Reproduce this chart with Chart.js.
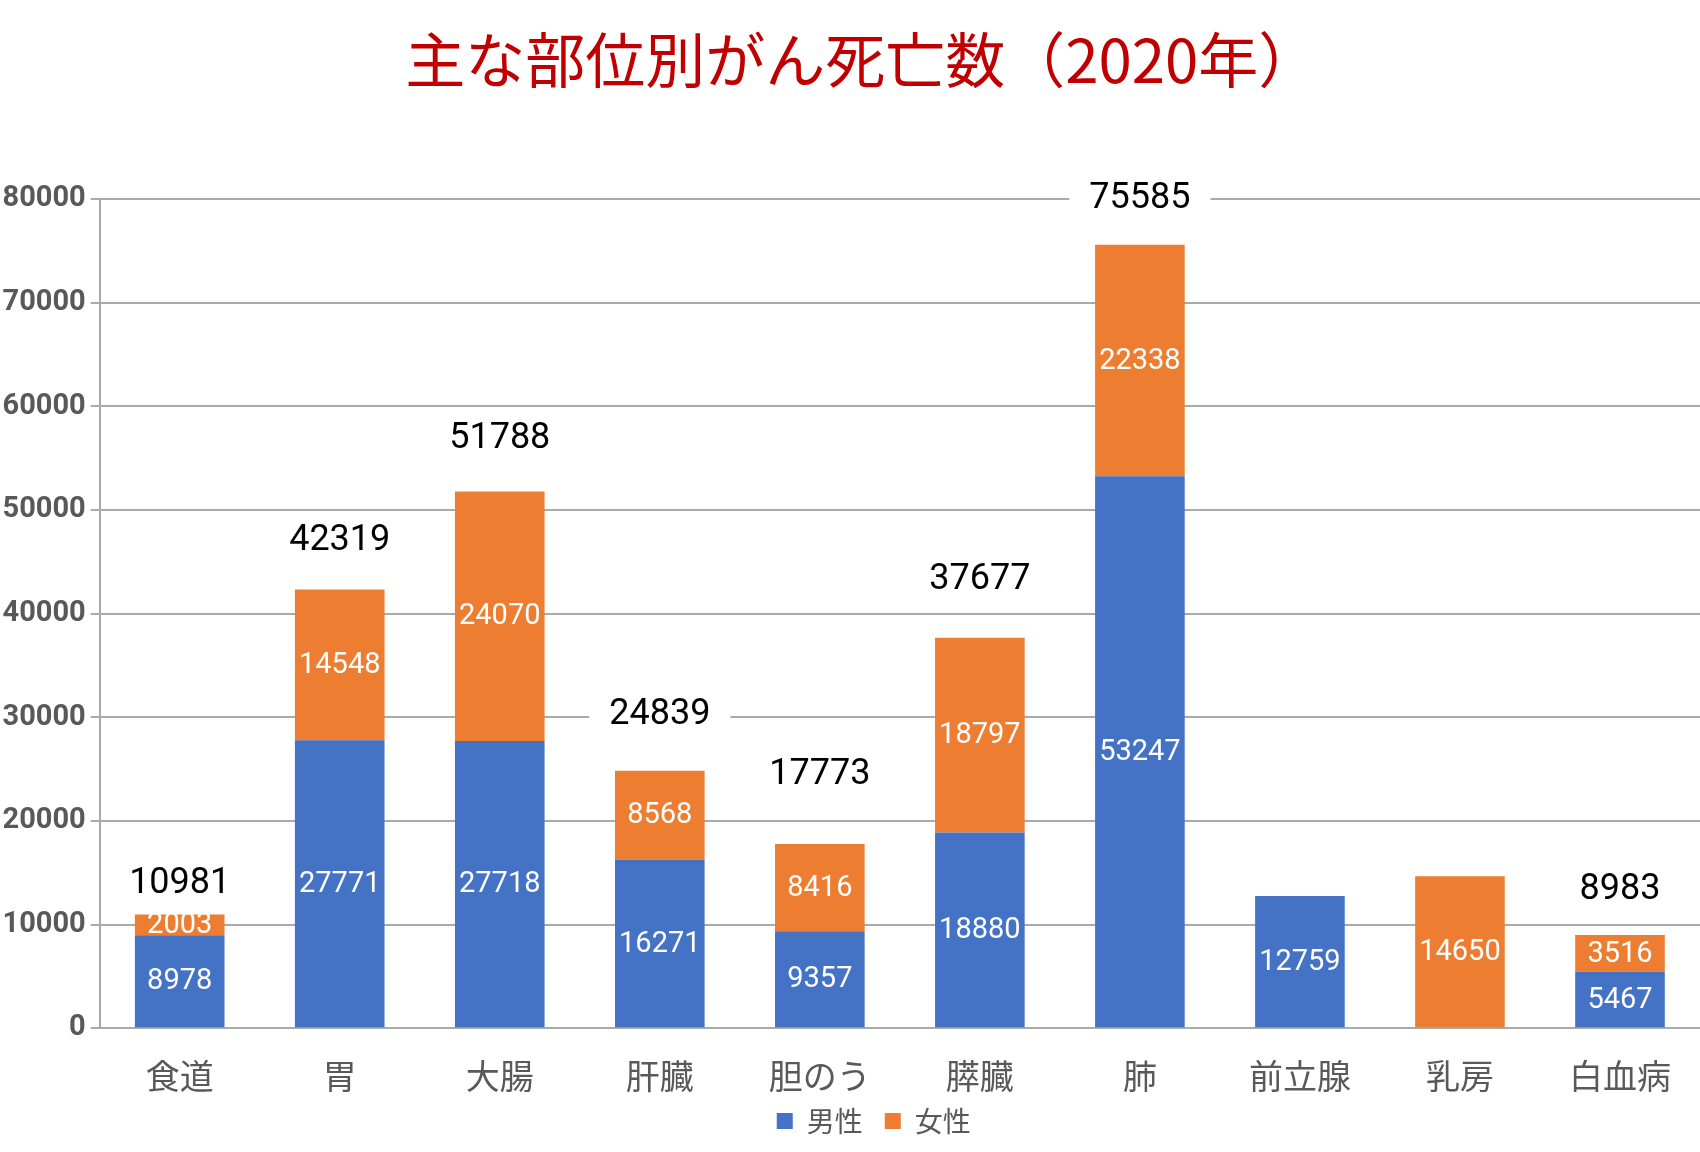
<!DOCTYPE html>
<html lang="ja">
<head>
<meta charset="utf-8">
<title>主な部位別がん死亡数（2020年）</title>
<script src="https://cdn.jsdelivr.net/npm/chart.js@4.4.1/dist/chart.umd.min.js"></script>
<style>
  body { margin: 0; background: #fff; }
  #wrap { width: 1700px; height: 1152px; }
</style>
</head>
<body>
<div id="wrap"><canvas id="myBarChart"></canvas></div>
<script>
var categorias = ['食道', '胃', '大腸', '肝臓', '胆のう', '膵臓', '肺', '前立腺', '乳房', '白血病'];
var hombres = [8978, 27771, 27718, 16271, 9357, 18880, 53247, 12759, null, 5467];
var mujeres = [2003, 14548, 24070, 8568, 8416, 18797, 22338, null, 14650, 3516];
var totales = [10981, 42319, 51788, 24839, 17773, 37677, 75585, null, null, 8983];
var ticksY = [0, 10000, 20000, 30000, 40000, 50000, 60000, 70000, 80000];

// how far each total label sits above its bar (px), as placed in the original
var subirEtiqueta = [31, 50, 53, 57, 70, 59, 47, 0, 0, 46];

var gris = '#aaaaaa';
var textoGris = '#595959';

// white numbers in the middle of every segment
var etiquetasValores = {
  id: 'etiquetasValores',
  afterDatasetsDraw: function (chart) {
    var ctx = chart.ctx;
    ctx.save();
    ctx.font = '29px Roboto';
    ctx.fillStyle = '#ffffff';
    ctx.textAlign = 'center';
    ctx.textBaseline = 'middle';
    chart.data.datasets.forEach(function (ds, d) {
      var meta = chart.getDatasetMeta(d);
      meta.data.forEach(function (bar, i) {
        if (ds.data[i] == null) return;
        var p = bar.getProps(['x', 'y', 'base'], true);
        ctx.fillText(String(ds.data[i]), p.x, (p.y + p.base) / 2 + 1);
      });
    });
    ctx.restore();
  }
};

// totals above the stacks, on a white box that hides the grid
var etiquetasTotales = {
  id: 'etiquetasTotales',
  afterDatasetsDraw: function (chart) {
    var ctx = chart.ctx;
    var x = chart.scales.x;
    var y = chart.scales.y;
    ctx.save();
    ctx.font = '36px Roboto';
    ctx.textAlign = 'center';
    ctx.textBaseline = 'middle';
    totales.forEach(function (t, i) {
      if (t == null) return;
      var px = x.getPixelForValue(i);
      var py = y.getPixelForValue(t) - subirEtiqueta[i];
      var w = ctx.measureText(String(t)).width;
      ctx.fillStyle = '#ffffff';
      ctx.fillRect(px - w / 2 - 20, py - 20, w + 40, 40);
      ctx.fillStyle = '#000000';
      ctx.fillText(String(t), px, py + 1);
    });
    ctx.restore();
  }
};

// nudge title and legend to where the original has them
var moverBloques = {
  id: 'moverBloques',
  afterLayout: function (chart) {
    var lg = chart.legend;
    lg.left += 25;
    lg.right += 25;
    lg.top -= 38;
    lg.bottom -= 38;
    var tt = chart.titleBlock;
    tt.left += 13;
    tt.right += 13;
  }
};

var ctx = document.getElementById('myBarChart').getContext('2d');
var myBarChart = new Chart(ctx, {
  type: 'bar',
  data: {
    labels: categorias,
    datasets: [{
        label: '男性',
        data: hombres,
        backgroundColor: '#4472C4',
        barPercentage: 0.56,
        categoryPercentage: 1.0
      },
      {
        label: '女性',
        data: mujeres,
        backgroundColor: '#ED7D31',
        barPercentage: 0.56,
        categoryPercentage: 1.0
      }
    ]
  },
  options: {
    responsive: true,
    maintainAspectRatio: false,
    animation: false,
    layout: {
      padding: { left: -2.5, right: 0, top: 0, bottom: -31 }
    },
    scales: {
      x: {
        stacked: true,
        grid: { display: false, drawTicks: false },
        border: { display: true, color: gris, width: 2 },
        ticks: {
          color: textoGris,
          padding: 27,
          font: { family: '"Noto Sans CJK JP"', size: 34 }
        }
      },
      y: {
        stacked: true,
        min: 0,
        max: 80000,
        afterBuildTicks: function (axis) {
          axis.ticks = ticksY.map(function (v) { return { value: v }; });
        },
        grid: { color: gris, lineWidth: 2, tickLength: 9 },
        border: { display: true, color: gris, width: 2 },
        ticks: {
          color: textoGris,
          padding: 5,
          font: { family: 'Roboto', size: 29, weight: 'bold' },
          callback: function (v) { return String(v); }
        }
      }
    },
    plugins: {
      title: {
        display: true,
        text: '主な部位別がん死亡数（2020年）',
        color: '#C00000',
        font: { family: '"Noto Sans CJK JP"', size: 60, weight: 'normal' },
        padding: { top: 24, bottom: 103 }
      },
      legend: {
        position: 'bottom',
        labels: {
          color: textoGris,
          boxWidth: 16,
          boxHeight: 16,
          padding: 22,
          font: { family: '"Noto Sans CJK JP"', size: 28 }
        }
      },
      tooltip: { enabled: false }
    }
  },
  plugins: [etiquetasValores, etiquetasTotales, moverBloques]
});
</script>
</body>
</html>
